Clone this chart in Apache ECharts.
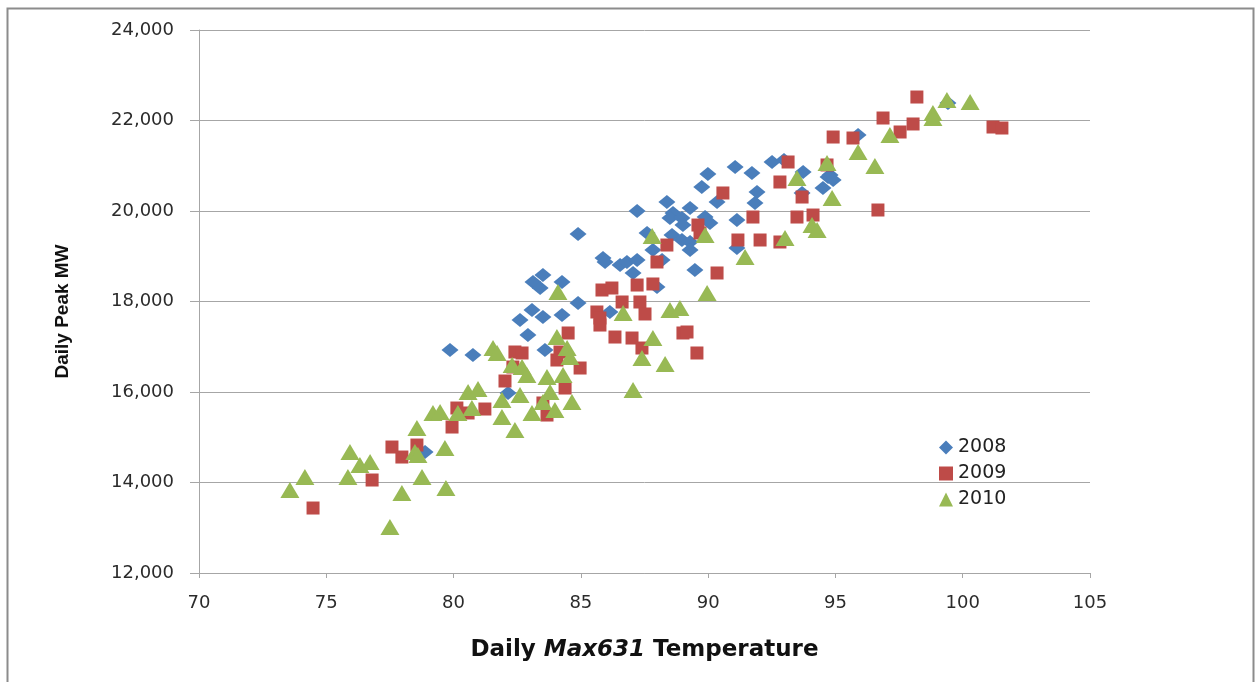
<!DOCTYPE html>
<html>
<head>
<meta charset="utf-8">
<script src="https://cdn.jsdelivr.net/npm/echarts@6/dist/echarts.min.js"></script>
<style>html,body{margin:0;padding:0;background:#fff;}#c{width:1257px;height:682px;}</style>
</head>
<body>
<div id="c"></div>
<script>
const seriesNames = ['2008', '2009', '2010'];
const xTicks = [70, 75, 80, 85, 90, 95, 100, 105];
const yTicks = [12000, 14000, 16000, 18000, 20000, 22000, 24000];

const data2008 = [
  [78.88,14674],[82.14,15978],[79.86,16928],[80.76,16817],[83.59,16928],[82.92,17259],
  [82.61,17591],[83.08,17812],[83.51,17657],[84.26,17701],[83.12,18431],[83.51,18585],
  [83.40,18298],[84.26,18431],[84.89,17967],[84.89,19492],[86.14,17768],[85.87,18961],
  [85.95,18873],[86.54,18806],[86.81,18873],[87.21,18917],[87.05,18630],[87.21,20000],
  [87.60,19514],[87.83,19138],[87.99,18320],[88.19,18917],[88.38,20199],[88.62,19956],
  [88.50,19845],[88.97,19845],[89.01,19690],[88.58,19469],[88.97,19359],[89.29,19315],
  [89.29,19138],[89.48,18696],[89.29,20066],[89.88,19867],[90.07,19735],[89.75,20530],
  [89.99,20818],[90.35,20199],[91.13,19801],[91.13,19182],[91.06,20972],[91.72,20840],
  [91.92,20420],[91.84,20177],[92.51,21083],[93.73,20862],[93.69,20398],[94.79,20796],
  [94.51,20508],[94.71,20751],[94.91,20685],[95.89,21680],[99.42,22387],[92.98,21127]
];
const data2009 = [
  [74.48,13436],[76.80,14055],[77.58,14784],[77.97,14563],[78.56,14828],[79.94,15226],
  [80.13,15646],[80.57,15536],[81.23,15624],[82.02,16243],[82.41,16884],[82.69,16862],
  [82.33,16552],[83.51,15757],[83.67,15491],[84.06,16707],[84.18,16884],[84.38,16088],
  [84.50,17304],[84.97,16530],[85.63,17768],[85.75,17635],[85.75,17480],[85.83,18254],
  [86.22,18298],[86.62,17989],[87.32,17989],[87.21,18364],[87.83,18387],[87.52,17724],
  [86.34,17215],[87.01,17193],[87.40,16972],[87.99,18873],[88.38,19248],[89.01,17304],
  [89.17,17326],[89.56,16862],[89.60,19690],[89.68,19514],[90.35,18630],[90.58,20398],
  [91.17,19359],[92.04,19359],[91.76,19867],[92.82,19315],[92.82,20641],[93.14,21083],
  [93.49,19867],[94.12,19911],[93.69,20309],[94.67,21017],[94.91,21635],[95.69,21613],
  [96.67,20022],[96.87,22055],[97.54,21746],[98.05,21923],[98.20,22519],[101.19,21856],
  [101.54,21834]
];
const data2010 = [
  [73.57,13834],[74.16,14122],[75.85,14122],[75.93,14674],[76.32,14386],[76.72,14453],
  [77.50,13016],[77.97,13768],[78.56,15204],[78.48,14674],[78.60,14607],[78.76,14122],
  [79.66,14762],[79.70,13878],[79.19,15536],[79.47,15558],[80.17,15536],[80.72,15646],
  [80.57,16000],[80.96,16066],[81.55,16972],[81.71,16862],[81.90,15823],[81.90,15447],
  [82.41,15160],[82.30,16596],[82.69,16552],[82.88,16375],[82.61,15933],[83.08,15536],
  [83.67,16331],[83.51,15779],[83.79,16000],[83.98,15602],[84.30,16375],[84.46,16972],
  [84.57,16773],[84.65,15779],[84.06,17215],[84.10,18210],[86.66,17746],[87.05,16044],
  [87.40,16751],[87.83,17193],[88.31,16619],[87.80,19447],[88.50,17812],[88.89,17856],
  [89.88,19469],[89.96,18188],[91.45,18983],[93.02,19403],[94.08,19690],[94.28,19580],
  [94.87,20287],[94.67,21061],[93.49,20729],[95.89,21304],[96.55,20994],[97.14,21680],
  [98.83,22166],[98.83,22055],[99.38,22453],[100.29,22409]
];

const chart = echarts.init(document.getElementById('c'), null, {renderer: 'canvas'});
const axisGray = '#A6A6A6';
const labelFont = {fontFamily: 'DejaVu Sans', fontSize: 18, color: '#2b2b2b'};

chart.setOption({
  animation: false,
  backgroundColor: '#ffffff',
  graphic: [{
    type: 'rect', left: 5, top: 6,
    shape: {width: 1246, height: 700},
    style: {fill: 'none', stroke: '#8c8c8c', lineWidth: 2}
  }],
  grid: {left: 199, right: 167, top: 30, bottom: 109, containLabel: false},
  legend: {
    orient: 'vertical', left: 934, top: 433, itemGap: 7,
    itemWidth: 14, itemHeight: 14,
    textStyle: {fontFamily: 'DejaVu Sans', fontSize: 19, color: '#222'},
    data: [
      {name: '2008', icon: 'diamond'},
      {name: '2009', icon: 'rect'},
      {name: '2010', icon: 'triangle'}
    ]
  },
  xAxis: {
    type: 'value', min: 70, max: 105, interval: 5,
    name: '{a|Daily }{b|Max631}{a| Temperature}',
    nameLocation: 'middle', nameGap: 66,
    nameTextStyle: {
      rich: {
        a: {fontFamily: 'DejaVu Sans', fontWeight: 'bold', fontSize: 23, color: '#111'},
        b: {fontFamily: 'DejaVu Sans', fontWeight: 'bold', fontStyle: 'italic', fontSize: 23, color: '#111'}
      }
    },
    axisLine: {show: true, lineStyle: {color: axisGray, width: 1}},
    axisTick: {show: true, inside: false, length: 5, lineStyle: {color: axisGray}},
    axisLabel: Object.assign({margin: 21, formatter: v => xTicks.includes(v) ? String(v) : ''}, labelFont),
    splitLine: {show: false}
  },
  yAxis: {
    type: 'value', min: 12000, max: 24000, interval: 2000,
    name: 'Daily Peak MW',
    nameLocation: 'middle', nameGap: 127, nameRotate: 90,
    nameTextStyle: {fontFamily: 'Liberation Sans Narrow, Liberation Sans', fontWeight: 'bold', fontSize: 19, color: '#111', padding: [0, 20, 0, 0]},
    axisLine: {show: true, lineStyle: {color: axisGray, width: 1}},
    axisTick: {show: true, inside: false, length: 9, lineStyle: {color: axisGray}},
    axisLabel: Object.assign({margin: 25, formatter: v => yTicks.includes(v) ? v.toLocaleString('en-US') : ''}, labelFont),
    splitLine: {show: true, lineStyle: {color: axisGray, width: 1}}
  },
  series: [
    {name: '2008', type: 'scatter', symbol: 'diamond', symbolSize: [17, 14],
     itemStyle: {color: '#4A7EBB', opacity: 1}, data: data2008, z: 2},
    {name: '2009', type: 'scatter', symbol: 'rect', symbolSize: 13,
     itemStyle: {color: '#BE4B48', opacity: 1}, data: data2009, z: 3},
    {name: '2010', type: 'scatter', symbol: 'triangle', symbolSize: [19, 16],
     itemStyle: {color: '#98B954', opacity: 1}, data: data2010, z: 4}
  ]
});
</script>
</body>
</html>
